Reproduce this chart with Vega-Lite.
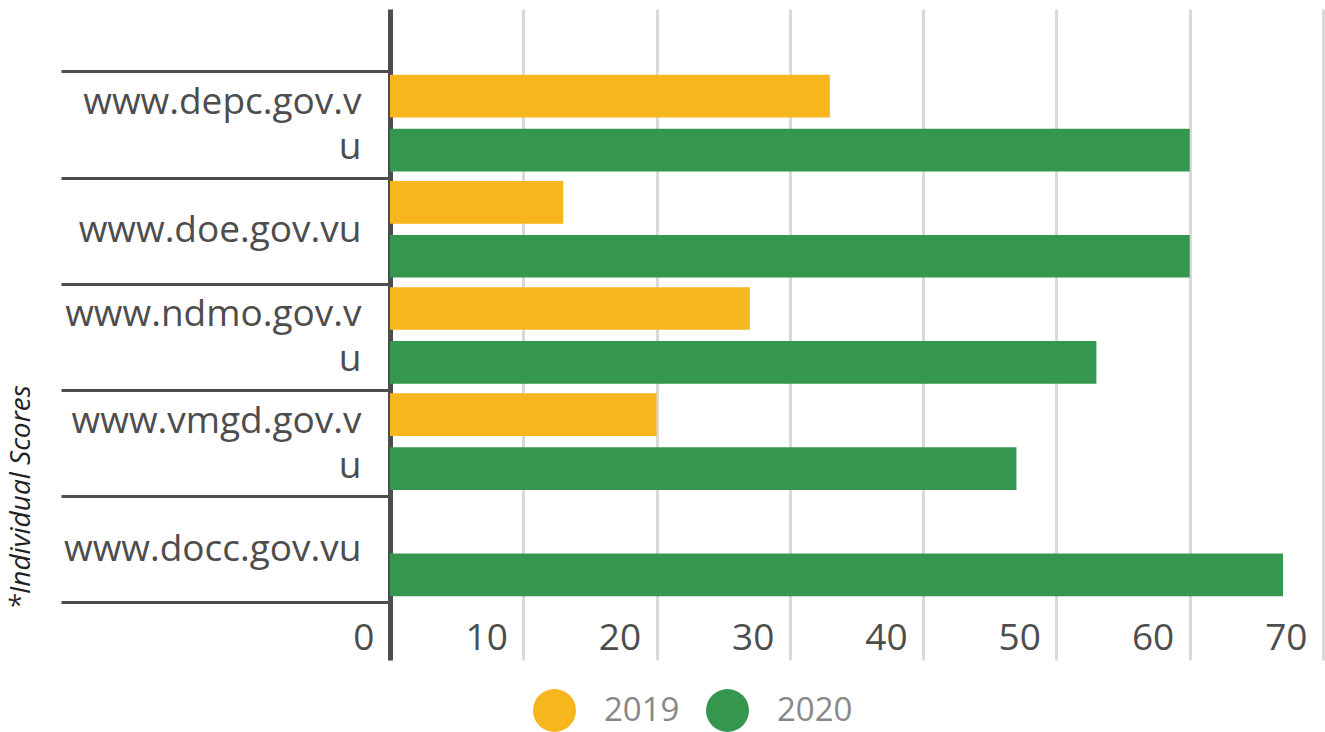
{
  "$schema": "https://vega.github.io/schema/vega-lite/v6.json",
  "width": 933,
  "height": 651,
  "autosize": "none",
  "padding": {"left": 390, "top": 9, "right": 2, "bottom": 72},
  "background": "white",
  "data": {
    "values": [
      {"site": "www.depc.gov.vu", "year": "2019", "score": 33},
      {"site": "www.depc.gov.vu", "year": "2020", "score": 60},
      {"site": "www.doe.gov.vu", "year": "2019", "score": 13},
      {"site": "www.doe.gov.vu", "year": "2020", "score": 60},
      {"site": "www.ndmo.gov.vu", "year": "2019", "score": 27},
      {"site": "www.ndmo.gov.vu", "year": "2020", "score": 53},
      {"site": "www.vmgd.gov.vu", "year": "2019", "score": 20},
      {"site": "www.vmgd.gov.vu", "year": "2020", "score": 47},
      {"site": "www.docc.gov.vu", "year": "2020", "score": 67}
    ]
  },
  "mark": {"type": "bar"},
  "encoding": {
    "y": {
      "field": "site",
      "type": "nominal",
      "sort": ["www.depc.gov.vu", "www.doe.gov.vu", "www.ndmo.gov.vu", "www.vmgd.gov.vu", "www.docc.gov.vu"],
      "scale": {"paddingInner": 0, "paddingOuter": 0.565, "align": 0.52},
      "axis": {
        "title": "*Individual Scores",
        "titleFont": "Open Sans",
        "titleFontSize": 28,
        "titleFontStyle": "italic",
        "titleFontWeight": "normal",
        "titleColor": "#222222",
        "titleAngle": -90,
        "titleAlign": "center",
        "titleBaseline": "middle",
        "titleX": -369,
        "titleY": 488,
        "domain": true,
        "domainColor": "#4d4d4d",
        "domainWidth": 5,
        "ticks": true,
        "tickBand": "extent",
        "tickSize": 329,
        "tickWidth": 3,
        "tickColor": "#4d4d4d",
        "grid": false,
        "labelFont": "Open Sans",
        "labelFontSize": 37,
        "labelColor": "#4d4d4d",
        "labelLimit": 400,
        "labelPadding": -300,
        "labelLineHeight": 45,
        "labelBaseline": "middle",
        "labelOffset": {"condition": {"test": "datum.value == 'www.doe.gov.vu' || datum.value == 'www.docc.gov.vu'", "value": 0}, "value": -22},
        "labelExpr": "datum.value == 'www.depc.gov.vu' ? ['www.depc.gov.v', 'u'] : datum.value == 'www.ndmo.gov.vu' ? ['www.ndmo.gov.v', 'u'] : datum.value == 'www.vmgd.gov.vu' ? ['www.vmgd.gov.v', 'u'] : datum.value"
      }
    },
    "x": {
      "field": "score",
      "type": "quantitative",
      "scale": {"domain": [0, 70], "nice": false},
      "axis": {
        "title": null,
        "values": [0, 10, 20, 30, 40, 50, 60, 70],
        "grid": true,
        "gridColor": "#d9d9d9",
        "gridWidth": 3,
        "domain": false,
        "ticks": false,
        "labelFont": "Open Sans",
        "labelFontSize": 37,
        "labelColor": "#4d4d4d",
        "labelAlign": "right",
        "labelBaseline": "middle",
        "labelOffset": -16,
        "labelPadding": -22,
        "labelFlush": false,
        "labelOverlap": false
      }
    },
    "yOffset": {
      "field": "year",
      "type": "nominal",
      "scale": {"paddingInner": 0.209, "paddingOuter": 0.088, "align": 0.35}
    },
    "color": {
      "field": "year",
      "type": "nominal",
      "scale": {"domain": ["2019", "2020"], "range": ["#f7b51e", "#34974d"]},
      "legend": {
        "title": null,
        "orient": "none",
        "direction": "horizontal",
        "legendX": 143,
        "legendY": 680,
        "symbolType": "circle",
        "symbolSize": 1849,
        "symbolStrokeWidth": 0,
        "labelFont": "Open Sans",
        "labelFontSize": 33,
        "labelColor": "#888888",
        "labelOffset": 28,
        "columnPadding": 26,
        "padding": 0
      }
    }
  },
  "config": {"view": {"stroke": null}}
}
